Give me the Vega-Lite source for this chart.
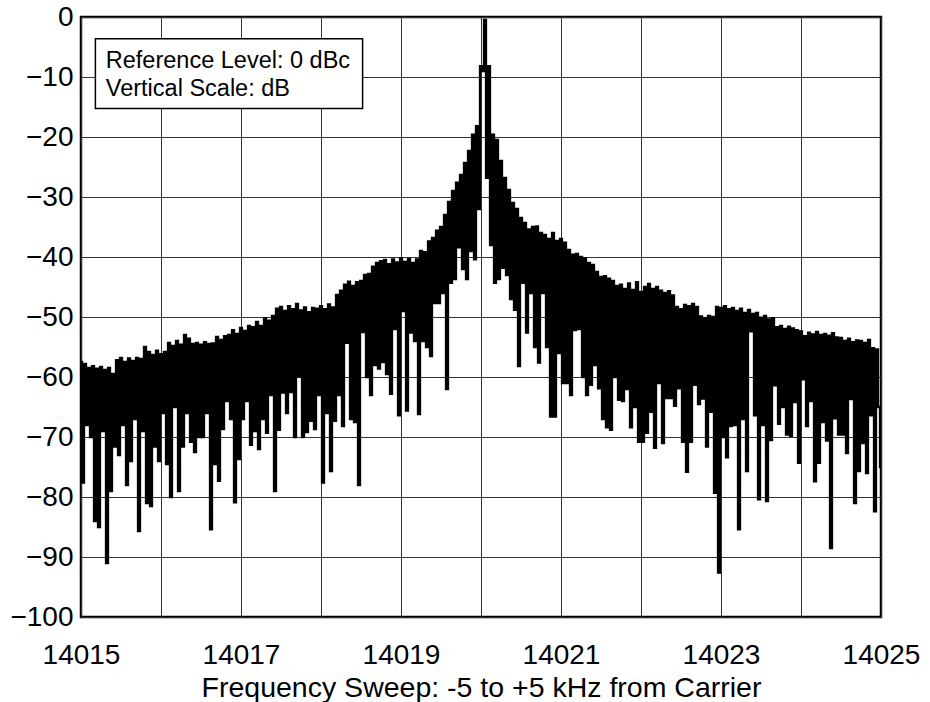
{
  "$schema": "https://vega.github.io/schema/vega-lite/v6.json",
  "width": 800,
  "height": 600,
  "autosize": {"type": "none"},
  "padding": {"left": 81, "top": 17, "right": 49, "bottom": 85},
  "background": "white",
  "config": {
    "font": "Liberation Sans",
    "view": {"stroke": "black", "strokeWidth": 2.5},
    "axis": {
      "grid": true,
      "gridColor": "#333333",
      "gridWidth": 1,
      "gridOpacity": 1,
      "domain": false,
      "ticks": false,
      "tickSize": 0,
      "labelColor": "black",
      "labelFont": "Liberation Sans",
      "labelFontSize": 28,
      "titleFont": "Liberation Sans",
      "titleFontSize": 28.5,
      "titleFontWeight": "normal",
      "titleColor": "black"
    }
  },
  "layer": [
    {
      "data": {"values": [{"label": "box"}]},
      "mark": {"type": "rect", "fill": "white", "stroke": "black", "strokeWidth": 1.5},
      "encoding": {
        "x": {"datum": 14015.18, "type": "quantitative", "scale": {"domain": [14015, 14025], "nice": false, "zero": false}},
        "x2": {"datum": 14018.52},
        "y": {"datum": -3.63, "type": "quantitative", "scale": {"domain": [-100, 0], "nice": false}},
        "y2": {"datum": -15.25}
      }
    },
    {
      "data": {"values": [{"label": "note"}]},
      "mark": {"type": "text", "text": ["Reference Level: 0 dBc", "Vertical Scale: dB"], "align": "left", "baseline": "alphabetic", "fontSize": 23.5, "fontWeight": "normal", "lineHeight": 28.4, "font": "Liberation Sans", "fill": "black"},
      "encoding": {
        "x": {"datum": 14015.31, "type": "quantitative"},
        "y": {"datum": -8.47, "type": "quantitative"}
      }
    },
    {
      "data": {"values": [
{"freq":14015,"dB":-57.5},{"freq":14015.025,"dB":-77.6},{"freq":14015.05,"dB":-57.8},{"freq":14015.075,"dB":-68},{"freq":14015.1,"dB":-58.5},{"freq":14015.125,"dB":-70},{"freq":14015.15,"dB":-58.2},{"freq":14015.175,"dB":-84},{"freq":14015.2,"dB":-58.6},{"freq":14015.225,"dB":-85},
{"freq":14015.25,"dB":-58.3},{"freq":14015.275,"dB":-69},{"freq":14015.3,"dB":-58.8},{"freq":14015.325,"dB":-91},{"freq":14015.35,"dB":-58.5},{"freq":14015.375,"dB":-79},{"freq":14015.4,"dB":-59.5},{"freq":14015.425,"dB":-71.6},{"freq":14015.45,"dB":-57.2},{"freq":14015.475,"dB":-73},
{"freq":14015.5,"dB":-56.8},{"freq":14015.525,"dB":-68},{"freq":14015.55,"dB":-57.5},{"freq":14015.575,"dB":-78},{"freq":14015.6,"dB":-56.9},{"freq":14015.625,"dB":-74},{"freq":14015.65,"dB":-57.3},{"freq":14015.675,"dB":-67},{"freq":14015.7,"dB":-56.8},{"freq":14015.725,"dB":-85.7},
{"freq":14015.75,"dB":-57},{"freq":14015.775,"dB":-69},{"freq":14015.8,"dB":-55},{"freq":14015.825,"dB":-81},{"freq":14015.85,"dB":-55.8},{"freq":14015.875,"dB":-81.5},{"freq":14015.9,"dB":-56.3},{"freq":14015.925,"dB":-71.6},{"freq":14015.95,"dB":-55.6},{"freq":14015.975,"dB":-74},
{"freq":14016,"dB":-56.2},{"freq":14016.025,"dB":-66},{"freq":14016.05,"dB":-55.8},{"freq":14016.075,"dB":-74.5},{"freq":14016.1,"dB":-54.3},{"freq":14016.125,"dB":-80},{"freq":14016.15,"dB":-54.8},{"freq":14016.175,"dB":-65},{"freq":14016.2,"dB":-54},{"freq":14016.225,"dB":-79},
{"freq":14016.25,"dB":-54.6},{"freq":14016.275,"dB":-71.6},{"freq":14016.3,"dB":-53},{"freq":14016.325,"dB":-66},{"freq":14016.35,"dB":-53.6},{"freq":14016.375,"dB":-70.8},{"freq":14016.4,"dB":-54.5},{"freq":14016.425,"dB":-72.5},{"freq":14016.45,"dB":-54.3},{"freq":14016.475,"dB":-70},
{"freq":14016.5,"dB":-54.6},{"freq":14016.525,"dB":-70},{"freq":14016.55,"dB":-54.2},{"freq":14016.575,"dB":-66},{"freq":14016.6,"dB":-54.5},{"freq":14016.625,"dB":-85.4},{"freq":14016.65,"dB":-54.4},{"freq":14016.675,"dB":-74.5},{"freq":14016.7,"dB":-53.3},{"freq":14016.725,"dB":-77.3},
{"freq":14016.75,"dB":-53.8},{"freq":14016.775,"dB":-68.7},{"freq":14016.8,"dB":-53.2},{"freq":14016.825,"dB":-64},{"freq":14016.85,"dB":-53},{"freq":14016.875,"dB":-67},{"freq":14016.9,"dB":-52.2},{"freq":14016.925,"dB":-80.9},{"freq":14016.95,"dB":-52.8},{"freq":14016.975,"dB":-73.7},
{"freq":14017,"dB":-51.8},{"freq":14017.025,"dB":-67},{"freq":14017.05,"dB":-52.3},{"freq":14017.075,"dB":-64},{"freq":14017.1,"dB":-51.5},{"freq":14017.125,"dB":-71.3},{"freq":14017.15,"dB":-51.7},{"freq":14017.175,"dB":-69},{"freq":14017.2,"dB":-50.8},{"freq":14017.225,"dB":-72},
{"freq":14017.25,"dB":-51.5},{"freq":14017.275,"dB":-67},{"freq":14017.3,"dB":-50.2},{"freq":14017.325,"dB":-69.3},{"freq":14017.35,"dB":-50.6},{"freq":14017.375,"dB":-63},{"freq":14017.4,"dB":-49.8},{"freq":14017.425,"dB":-79},{"freq":14017.45,"dB":-48.6},{"freq":14017.475,"dB":-68.8},
{"freq":14017.5,"dB":-48.3},{"freq":14017.525,"dB":-62.6},{"freq":14017.55,"dB":-49},{"freq":14017.575,"dB":-66},{"freq":14017.6,"dB":-48.2},{"freq":14017.625,"dB":-62.5},{"freq":14017.65,"dB":-48.7},{"freq":14017.675,"dB":-70},{"freq":14017.7,"dB":-47.8},{"freq":14017.725,"dB":-59.9},
{"freq":14017.75,"dB":-48.9},{"freq":14017.775,"dB":-70},{"freq":14017.8,"dB":-48.4},{"freq":14017.825,"dB":-69.2},{"freq":14017.85,"dB":-49.2},{"freq":14017.875,"dB":-67.3},{"freq":14017.9,"dB":-48.5},{"freq":14017.925,"dB":-68.7},{"freq":14017.95,"dB":-48.6},{"freq":14017.975,"dB":-63},
{"freq":14018,"dB":-48.2},{"freq":14018.025,"dB":-77.6},{"freq":14018.05,"dB":-48.7},{"freq":14018.075,"dB":-66},{"freq":14018.1,"dB":-47.9},{"freq":14018.125,"dB":-75.7},{"freq":14018.15,"dB":-48.4},{"freq":14018.175,"dB":-67.3},{"freq":14018.2,"dB":-46.3},{"freq":14018.225,"dB":-63},
{"freq":14018.25,"dB":-45.6},{"freq":14018.275,"dB":-68.2},{"freq":14018.3,"dB":-44.6},{"freq":14018.325,"dB":-54.3},{"freq":14018.35,"dB":-44.1},{"freq":14018.375,"dB":-67},{"freq":14018.4,"dB":-44.8},{"freq":14018.425,"dB":-67.5},{"freq":14018.45,"dB":-44.2},{"freq":14018.475,"dB":-78},
{"freq":14018.5,"dB":-44},{"freq":14018.525,"dB":-52.5},{"freq":14018.55,"dB":-43},{"freq":14018.575,"dB":-60},{"freq":14018.6,"dB":-42.8},{"freq":14018.625,"dB":-63},{"freq":14018.65,"dB":-41.6},{"freq":14018.675,"dB":-58},{"freq":14018.7,"dB":-41},{"freq":14018.725,"dB":-58.6},
{"freq":14018.75,"dB":-40.7},{"freq":14018.775,"dB":-57.5},{"freq":14018.8,"dB":-40.5},{"freq":14018.825,"dB":-59.5},{"freq":14018.85,"dB":-41.2},{"freq":14018.875,"dB":-62.8},{"freq":14018.9,"dB":-40.4},{"freq":14018.925,"dB":-52},{"freq":14018.95,"dB":-40.9},{"freq":14018.975,"dB":-66.4},
{"freq":14019,"dB":-40.2},{"freq":14019.025,"dB":-49},{"freq":14019.05,"dB":-40.8},{"freq":14019.075,"dB":-65.6},{"freq":14019.1,"dB":-40.3},{"freq":14019.125,"dB":-52.6},{"freq":14019.15,"dB":-41},{"freq":14019.175,"dB":-54},{"freq":14019.2,"dB":-40.4},{"freq":14019.225,"dB":-66.2},
{"freq":14019.25,"dB":-39},{"freq":14019.275,"dB":-54},{"freq":14019.3,"dB":-39.2},{"freq":14019.325,"dB":-55},{"freq":14019.35,"dB":-37.4},{"freq":14019.375,"dB":-56.5},{"freq":14019.4,"dB":-36.8},{"freq":14019.425,"dB":-47.7},{"freq":14019.45,"dB":-35.6},{"freq":14019.475,"dB":-47.7},
{"freq":14019.5,"dB":-35},{"freq":14019.525,"dB":-46},{"freq":14019.55,"dB":-33},{"freq":14019.575,"dB":-62},{"freq":14019.6,"dB":-30.8},{"freq":14019.625,"dB":-44.3},{"freq":14019.65,"dB":-29},{"freq":14019.675,"dB":-43.7},{"freq":14019.7,"dB":-27.6},{"freq":14019.725,"dB":-38.4},
{"freq":14019.75,"dB":-26.3},{"freq":14019.775,"dB":-42},{"freq":14019.8,"dB":-24.3},{"freq":14019.825,"dB":-43.7},{"freq":14019.85,"dB":-22.3},{"freq":14019.875,"dB":-39},{"freq":14019.9,"dB":-19.6},{"freq":14019.925,"dB":-40.4},{"freq":14019.95,"dB":-18.2},{"freq":14019.975,"dB":-32},
{"freq":14020,"dB":-8.2},{"freq":14020.025,"dB":-9},{"freq":14020.05,"dB":-0.5},{"freq":14020.075,"dB":-26.8},{"freq":14020.1,"dB":-8.2},{"freq":14020.125,"dB":-38},{"freq":14020.15,"dB":-19.6},{"freq":14020.175,"dB":-44.3},{"freq":14020.2,"dB":-20.5},{"freq":14020.225,"dB":-43.7},
{"freq":14020.25,"dB":-24},{"freq":14020.275,"dB":-41.8},{"freq":14020.3,"dB":-26.8},{"freq":14020.325,"dB":-43},{"freq":14020.35,"dB":-28.8},{"freq":14020.375,"dB":-47},{"freq":14020.4,"dB":-31},{"freq":14020.425,"dB":-48.8},{"freq":14020.45,"dB":-32},{"freq":14020.475,"dB":-58.2},
{"freq":14020.5,"dB":-33.5},{"freq":14020.525,"dB":-44.3},{"freq":14020.55,"dB":-34.3},{"freq":14020.575,"dB":-52.6},{"freq":14020.6,"dB":-35.4},{"freq":14020.625,"dB":-46},{"freq":14020.65,"dB":-35},{"freq":14020.675,"dB":-55},{"freq":14020.7,"dB":-34.9},{"freq":14020.725,"dB":-57.6},
{"freq":14020.75,"dB":-36},{"freq":14020.775,"dB":-46},{"freq":14020.8,"dB":-36.3},{"freq":14020.825,"dB":-55},{"freq":14020.85,"dB":-37},{"freq":14020.875,"dB":-66.6},{"freq":14020.9,"dB":-36},{"freq":14020.925,"dB":-66.6},{"freq":14020.95,"dB":-37.3},{"freq":14020.975,"dB":-56},
{"freq":14021,"dB":-37},{"freq":14021.025,"dB":-61},{"freq":14021.05,"dB":-37.6},{"freq":14021.075,"dB":-61},{"freq":14021.1,"dB":-38.8},{"freq":14021.125,"dB":-63},{"freq":14021.15,"dB":-39.6},{"freq":14021.175,"dB":-52.2},{"freq":14021.2,"dB":-39.5},{"freq":14021.225,"dB":-52},
{"freq":14021.25,"dB":-40},{"freq":14021.275,"dB":-60},{"freq":14021.3,"dB":-40.2},{"freq":14021.325,"dB":-63},{"freq":14021.35,"dB":-41},{"freq":14021.375,"dB":-61.3},{"freq":14021.4,"dB":-41.3},{"freq":14021.425,"dB":-58},{"freq":14021.45,"dB":-42.5},{"freq":14021.475,"dB":-61.9},
{"freq":14021.5,"dB":-43.3},{"freq":14021.525,"dB":-67},{"freq":14021.55,"dB":-43.2},{"freq":14021.575,"dB":-68.4},{"freq":14021.6,"dB":-43.6},{"freq":14021.625,"dB":-68.8},{"freq":14021.65,"dB":-44},{"freq":14021.675,"dB":-60},{"freq":14021.7,"dB":-44.8},{"freq":14021.725,"dB":-63.8},
{"freq":14021.75,"dB":-44.6},{"freq":14021.775,"dB":-64},{"freq":14021.8,"dB":-45.3},{"freq":14021.825,"dB":-62},{"freq":14021.85,"dB":-44.4},{"freq":14021.875,"dB":-68.4},{"freq":14021.9,"dB":-45.5},{"freq":14021.925,"dB":-65},{"freq":14021.95,"dB":-44.2},{"freq":14021.975,"dB":-70.8},
{"freq":14022,"dB":-45.8},{"freq":14022.025,"dB":-70.8},{"freq":14022.05,"dB":-45},{"freq":14022.075,"dB":-69.3},{"freq":14022.1,"dB":-44.5},{"freq":14022.125,"dB":-65.8},{"freq":14022.15,"dB":-45.3},{"freq":14022.175,"dB":-71.8},{"freq":14022.2,"dB":-45},{"freq":14022.225,"dB":-61},
{"freq":14022.25,"dB":-45.6},{"freq":14022.275,"dB":-71},{"freq":14022.3,"dB":-46},{"freq":14022.325,"dB":-63.5},{"freq":14022.35,"dB":-45.7},{"freq":14022.375,"dB":-63.5},{"freq":14022.4,"dB":-46.4},{"freq":14022.425,"dB":-64.8},{"freq":14022.45,"dB":-48.3},{"freq":14022.475,"dB":-61.9},
{"freq":14022.5,"dB":-48.7},{"freq":14022.525,"dB":-70.8},{"freq":14022.55,"dB":-48},{"freq":14022.575,"dB":-75.8},{"freq":14022.6,"dB":-48.2},{"freq":14022.625,"dB":-70.8},{"freq":14022.65,"dB":-47.8},{"freq":14022.675,"dB":-61.3},{"freq":14022.7,"dB":-48.3},{"freq":14022.725,"dB":-64.5},
{"freq":14022.75,"dB":-49.9},{"freq":14022.775,"dB":-63.6},{"freq":14022.8,"dB":-50.2},{"freq":14022.825,"dB":-71.6},{"freq":14022.85,"dB":-49.8},{"freq":14022.875,"dB":-65.8},{"freq":14022.9,"dB":-50},{"freq":14022.925,"dB":-79.3},{"freq":14022.95,"dB":-48.3},{"freq":14022.975,"dB":-92.6},
{"freq":14023,"dB":-48.5},{"freq":14023.025,"dB":-70},{"freq":14023.05,"dB":-48.2},{"freq":14023.075,"dB":-73.4},{"freq":14023.1,"dB":-48.7},{"freq":14023.125,"dB":-68.2},{"freq":14023.15,"dB":-48.5},{"freq":14023.175,"dB":-68},{"freq":14023.2,"dB":-49},{"freq":14023.225,"dB":-85.4},
{"freq":14023.25,"dB":-48.6},{"freq":14023.275,"dB":-67},{"freq":14023.3,"dB":-49.3},{"freq":14023.325,"dB":-75.7},{"freq":14023.35,"dB":-48.8},{"freq":14023.375,"dB":-52.4},{"freq":14023.4,"dB":-49.5},{"freq":14023.425,"dB":-66.4},{"freq":14023.45,"dB":-49.3},{"freq":14023.475,"dB":-80.4},
{"freq":14023.5,"dB":-50.1},{"freq":14023.525,"dB":-68},{"freq":14023.55,"dB":-49.8},{"freq":14023.575,"dB":-80.7},{"freq":14023.6,"dB":-50.4},{"freq":14023.625,"dB":-70.5},{"freq":14023.65,"dB":-50.2},{"freq":14023.675,"dB":-61.4},{"freq":14023.7,"dB":-51.7},{"freq":14023.725,"dB":-67.8},
{"freq":14023.75,"dB":-51.5},{"freq":14023.775,"dB":-65},{"freq":14023.8,"dB":-52},{"freq":14023.825,"dB":-69.6},{"freq":14023.85,"dB":-51.6},{"freq":14023.875,"dB":-69.8},{"freq":14023.9,"dB":-51.9},{"freq":14023.925,"dB":-64.2},{"freq":14023.95,"dB":-52.2},{"freq":14023.975,"dB":-74.3},
{"freq":14024,"dB":-52.4},{"freq":14024.025,"dB":-60.4},{"freq":14024.05,"dB":-53.2},{"freq":14024.075,"dB":-68.2},{"freq":14024.1,"dB":-52.6},{"freq":14024.125,"dB":-64},{"freq":14024.15,"dB":-52.9},{"freq":14024.175,"dB":-77.4},{"freq":14024.2,"dB":-52.5},{"freq":14024.225,"dB":-74.3},
{"freq":14024.25,"dB":-53},{"freq":14024.275,"dB":-67.5},{"freq":14024.3,"dB":-52.8},{"freq":14024.325,"dB":-70.6},{"freq":14024.35,"dB":-53.1},{"freq":14024.375,"dB":-88.5},{"freq":14024.4,"dB":-52.7},{"freq":14024.425,"dB":-66.9},{"freq":14024.45,"dB":-53.4},{"freq":14024.475,"dB":-69.6},
{"freq":14024.5,"dB":-53.5},{"freq":14024.525,"dB":-69.6},{"freq":14024.55,"dB":-54},{"freq":14024.575,"dB":-72.7},{"freq":14024.6,"dB":-53.6},{"freq":14024.625,"dB":-63.7},{"freq":14024.65,"dB":-54.2},{"freq":14024.675,"dB":-81},{"freq":14024.7,"dB":-53.9},{"freq":14024.725,"dB":-75.7},
{"freq":14024.75,"dB":-54},{"freq":14024.775,"dB":-71},{"freq":14024.8,"dB":-54.3},{"freq":14024.825,"dB":-76},{"freq":14024.85,"dB":-53.8},{"freq":14024.875,"dB":-66.4},{"freq":14024.9,"dB":-55.2},{"freq":14024.925,"dB":-82.4},{"freq":14024.95,"dB":-55.4},{"freq":14024.975,"dB":-65},
{"freq":14025,"dB":-75}
      ]},
      "mark": {"type": "line", "color": "black", "strokeWidth": 2.3, "interpolate": "step", "strokeJoin": "miter", "clip": true},
      "encoding": {
        "x": {
          "field": "freq", "type": "quantitative",
          "scale": {"domain": [14015, 14025], "nice": false, "zero": false},
          "axis": {
            "values": [14015, 14016, 14017, 14018, 14019, 14020, 14021, 14022, 14023, 14024, 14025],
            "labelExpr": "datum.value % 2 == 1 ? format(datum.value, 'd') : ''",
            "labelFlush": false,
            "labelPadding": 24,
            "labelOverlap": false,
            "title": "Frequency Sweep: -5 to +5 kHz from Carrier",
            "titlePadding": 4
          }
        },
        "y": {
          "field": "dB", "type": "quantitative",
          "scale": {"domain": [-100, 0], "nice": false},
          "axis": {
            "values": [-100, -90, -80, -70, -60, -50, -40, -30, -20, -10, 0],
            "labelPadding": 8,
            "labelFlush": false,
            "labelOverlap": false,
            "title": null
          }
        }
      }
    }
  ]
}
